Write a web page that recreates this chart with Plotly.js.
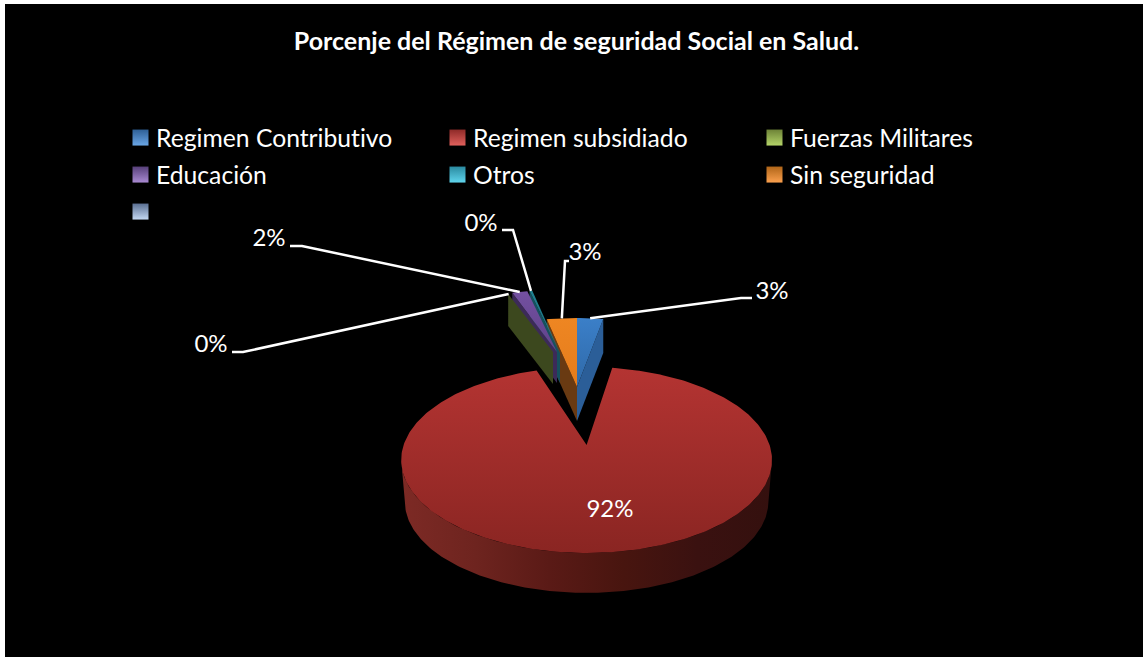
<!DOCTYPE html>
<html>
<head>
<meta charset="utf-8">
<script src="https://cdn.plot.ly/plotly-3.0.1.min.js"></script>
<style>
html,body{margin:0;padding:0;background:#fff;overflow:hidden;width:1143px;height:657px}
#chart{position:absolute;left:5px;top:4px;width:1138px;height:653px}
#chart text{font-variant-ligatures:none !important;font-feature-settings:"liga" 0,"clig" 0 !important}
</style>
</head>
<body>
<div id="chart"></div>
<script>
// --- data ---
const categories = ['Regimen Contributivo','Regimen subsidiado','Fuerzas Militares','Educación','Otros','Sin seguridad'];
const percents = [2.6, 92.3, 0.1, 1.7, 0.3, 3.0];
const extraLegendName = ' ';
const chartTitle = 'Porcenje del Régimen de seguridad Social en Salud.';

// --- styles ---
const topColors = [['#2f69a8','#3b7fc8'],['#8a2522','#b43432'],['#77903c','#8fa84a'],['#60428a','#7350a0'],['#1b6f80','#20808f'],['#e57c1c','#ee8622']];
const faceColors = ['#2b5e98','#5a1a16','#3c481e','#3c2a58','#16505e','#693a12'];
const wallColors = ['#7d2a25','#6e241f','#5a1a16','#48150f','#3a1110','#34100e'];
const swatchTop = ['#6aa6e6','#e0605c','#b4d468','#a98ad2','#5fd4ec','#fba04e','#c4d8f2'];
const swatchBottom = ['#2e5f96','#8e2a28','#6d8337','#57407a','#2a8aa0','#b06518','#5a6f92'];

// --- 3D pie view: apex position, projection scale and depth of each slice ---
const views = [
  {ax:577, ay:387, A:187, B:80, k:0.161, depth:34},
  {ax:586.6, ay:445, A:183, B:90.6, k:0.161, depth:42},
  {ax:553, ay:352, A:164, B:70.3, k:0.161, depth:32},
  {ax:557, ay:352, A:167, B:71.8, k:0.161, depth:31},
  {ax:560, ay:353, A:171, B:73.4, k:0.161, depth:30},
  {ax:577, ay:387, A:187, B:80, k:0.161, depth:34}
];
const drawOrder = [5,0,4,3,2];
// label text centre and leader elbow for each slice (null elbow: label sits on the slice)
const labelSpots = [
  {tx:772,ty:293,el:[[741,298],[752,298]]},
  {tx:610,ty:510.5,el:null},
  {tx:211,ty:346,el:[[243,352],[232,352]]},
  {tx:269,ty:240,el:[[302,246],[290,246]]},
  {tx:481,ty:225,el:[[513,230],[502,230]]},
  {tx:585,ty:254,el:[[565,261],[569,261]]}
];
// legend grid
const legendColumns = [116, 433, 750];
const legendRows = [138, 175, 212];

function proj(v, deg, down, shrink){
  const t = deg*Math.PI/180, s = shrink||1, w = 1 + v.k*Math.cos(t);
  return [v.ax + s*v.A*Math.sin(t)/w, v.ay + (down||0) - s*v.B*Math.cos(t)/w];
}
function arc(v, a, b, down, shrink){
  const n = Math.max(2, Math.ceil(Math.abs(b-a)));
  const pts = [];
  for(let i=0;i<=n;i++) pts.push(proj(v, a+(b-a)*i/n, down, shrink));
  return pts;
}
function poly(pts, grad, gradType){
  return {x:pts.map(p=>p[0]).concat(pts[0][0]), y:pts.map(p=>p[1]).concat(pts[0][1]),
    type:'scatter', mode:'lines', fill:'toself', line:{width:0}, hoverinfo:'skip', showlegend:false,
    fillcolor:grad[0],
    fillgradient:{type:gradType, colorscale:grad.map((c,i)=>[i/(grad.length-1),c])}};
}

// slice angles, clockwise from 12 o'clock
const total = percents.reduce((a,b)=>a+b,0);
let run = 0;
const spans = percents.map(p=>{const s=[run,run+p/total*360]; run=s[1]; return s;});

const traces = [];
function addSlice(i){
  const v = views[i], [a,b] = spans[i], span = b-a, mid=(a+b)/2;
  const bottomShrink = 0.98;
  if(span>180){
    const edge = Math.acos(-v.k)*180/Math.PI;
    const lo = 360-edge, hi = edge;
    const t = arc(v, hi, lo), btm = arc(v, lo, hi, v.depth, bottomShrink);
    traces.push(poly(t.concat(btm), wallColors, 'horizontal'));
  } else {
    const edgeDeg = (mid<180) ? b : a;
    const p = proj(v, edgeDeg), p2 = proj(v, edgeDeg, v.depth);
    const c = [v.ax, v.ay], c2 = [v.ax, v.ay+v.depth];
    traces.push(poly([c,p,p2,c2], [faceColors[i],faceColors[i]], 'vertical'));
  }
  traces.push(poly([[v.ax,v.ay]].concat(arc(v,a,b)), topColors[i], 'vertical'));
}
addSlice(1);
drawOrder.forEach(addSlice);

// leader lines start on the rim of the slice they name
labelSpots.forEach((s,i)=>{
  if(!s.el) return;
  const v = views[i], start = proj(v,(spans[i][0]+spans[i][1])/2);
  const pts = [start].concat(s.el);
  traces.push({x:pts.map(p=>p[0]), y:pts.map(p=>p[1]), type:'scatter', mode:'lines',
    line:{color:'#ffffff',width:2.5}, hoverinfo:'skip', showlegend:false});
});

// percent labels
traces.push({x:labelSpots.map(s=>s.tx), y:labelSpots.map(s=>s.ty),
  text:percents.map(p=>Math.round(p)+'%'), type:'scatter', mode:'text', textposition:'middle center',
  textfont:{family:'Lato, sans-serif',size:24,color:'#ffffff'}, hoverinfo:'skip', showlegend:false});

// legend entries, each in its own grid cell
const legendFont = {family:'Lato, sans-serif',size:24.7,color:'#ffffff'};
const layoutLegends = {};
categories.concat(extraLegendName).forEach((name,i)=>{
  const id = i===0 ? 'legend' : 'legend'+(i+1);
  traces.push({x:[null], y:[null], type:'scatter', mode:'markers', name:name, legend:id,
    marker:{symbol:'square', size:16, color:swatchBottom[i], gradient:{type:'vertical',color:swatchTop[i]}}, hoverinfo:'skip'});
  layoutLegends[id] = {xref:'paper', yref:'paper', xanchor:'left', yanchor:'middle',
    x:(legendColumns[i%3]-5)/1138, y:1-(legendRows[Math.floor(i/3)]-4)/653,
    bgcolor:'rgba(0,0,0,0)', font:legendFont, itemclick:false, itemdoubleclick:false};
});

const layout = Object.assign({
  width:1138, height:653, margin:{l:0,r:0,t:0,b:0},
  paper_bgcolor:'#000000', plot_bgcolor:'#000000',
  font:{family:'Lato, sans-serif',color:'#ffffff'},
  title:{text:'<b>'+chartTitle+'</b>', x:(576.5-5)/1138, xref:'paper', xanchor:'center',
    y:1-(41-4)/653, yref:'paper', yanchor:'middle', font:{family:'Lato, sans-serif',size:25,color:'#ffffff'}},
  xaxis:{range:[5,1143], visible:false, fixedrange:true},
  yaxis:{range:[657,4], visible:false, fixedrange:true},
  showlegend:true, hovermode:false
}, layoutLegends);

Plotly.newPlot('chart', traces, layout, {displayModeBar:false}).then(gd=>{
  gd.querySelectorAll('.legendsymbols').forEach(g=>g.setAttribute('transform','translate(4.5,0)'));
});
</script>
</body>
</html>
